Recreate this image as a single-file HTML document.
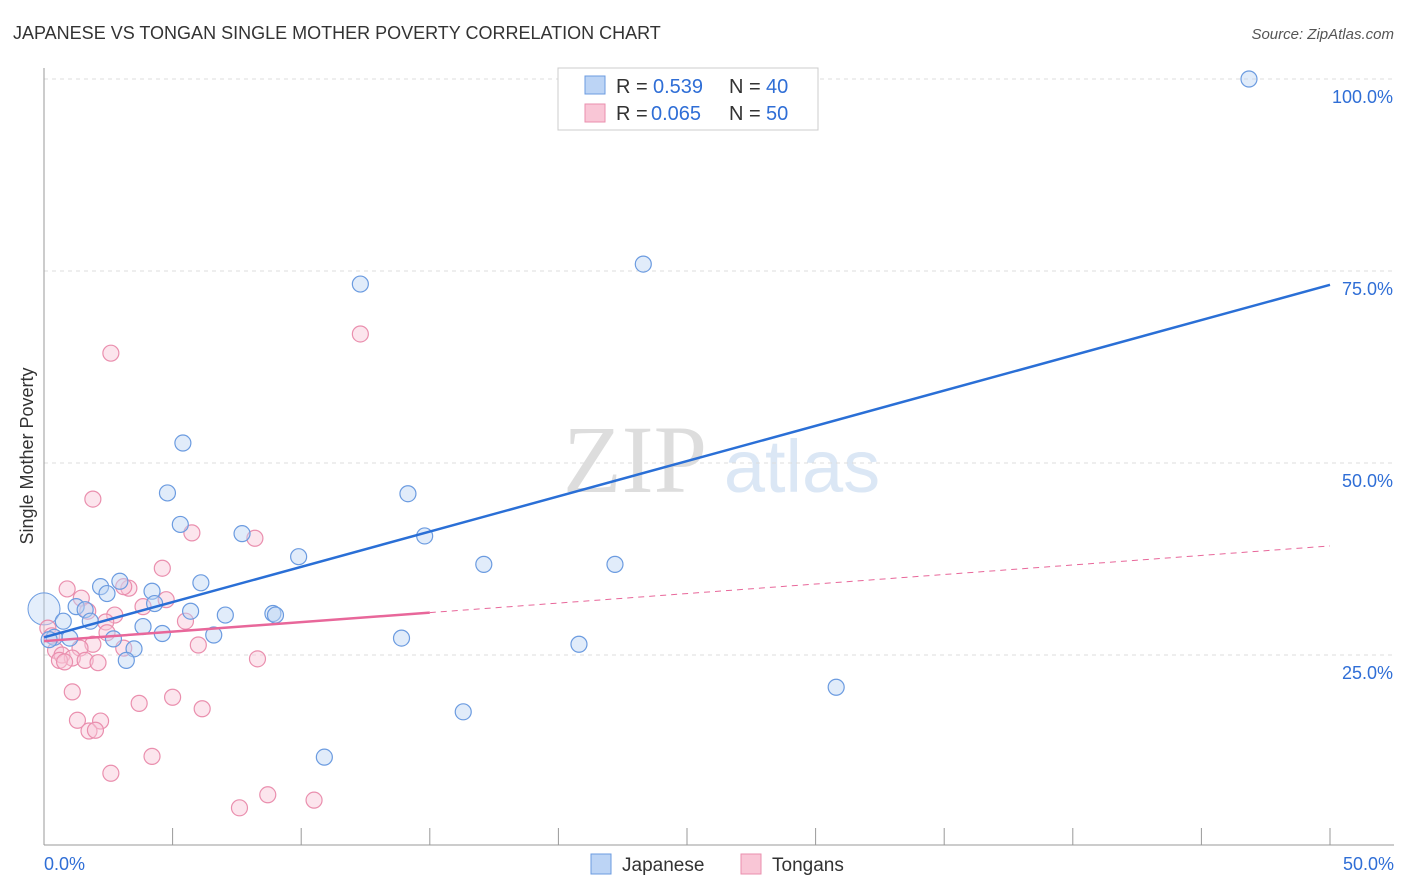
<!DOCTYPE html>
<html><head><meta charset="utf-8"><style>
body{margin:0;background:#fff;font-family:"Liberation Sans",sans-serif;}
#w{position:relative;width:1406px;height:892px;overflow:hidden;}
</style></head><body>
<div id="w">
<svg id="c" width="1406" height="892" xmlns="http://www.w3.org/2000/svg">
<text x="13" y="39" font-size="18" fill="#333">JAPANESE VS TONGAN SINGLE MOTHER POVERTY CORRELATION CHART</text>
<text x="1394" y="39" font-size="15" fill="#555" text-anchor="end" font-style="italic">Source: ZipAtlas.com</text>
<text x="33" y="456" font-size="18" fill="#333" text-anchor="middle" transform="rotate(-90 33 456)">Single Mother Poverty</text>
<text x="635" y="492" font-size="96" fill="#ddd" text-anchor="middle" font-family="Liberation Serif,serif">ZIP</text>
<text x="802" y="492" font-size="74" fill="#dbe7f5" text-anchor="middle">atlas</text>
<g id="grid"></g><g id="marks"></g>
<g>
<rect x="558" y="68" width="260" height="62" fill="#fff" stroke="#ccc"/>
<rect x="585" y="76" width="20" height="18" fill="#bcd4f5" stroke="#6b9be0"/>
<text y="93" font-size="20" fill="#333"><tspan x="616">R =</tspan><tspan x="653" fill="#2f6ed6">0.539</tspan><tspan x="729">N =</tspan><tspan x="766" fill="#2f6ed6">40</tspan></text>
<rect x="585" y="104" width="20" height="18" fill="#f9c6d6" stroke="#ea8fae"/>
<text y="120" font-size="20" fill="#333"><tspan x="616">R =</tspan><tspan x="651" fill="#2f6ed6">0.065</tspan><tspan x="729">N =</tspan><tspan x="766" fill="#2f6ed6">50</tspan></text>
</g>
<g>
<rect x="591" y="854" width="20" height="20" fill="#bcd4f5" stroke="#6b9be0"/>
<text x="622" y="871" font-size="19" fill="#333">Japanese</text>
<rect x="741" y="854" width="20" height="20" fill="#f9c6d6" stroke="#ea8fae"/>
<text x="772" y="871" font-size="19" fill="#333">Tongans</text>
</g>
</svg>
</div>
<script>
const blueX=[46.85,23.3,12.3,5.4,4.8,14.15,5.3,7.7,14.8,9.9,17.1,22.2,2.95,2.2,4.2,6.1,2.45,4.3,1.25,1.6,5.7,7.05,8.9,9.0,1.8,0.75,3.85,4.6,6.6,13.9,2.7,1.0,0.4,0.2,20.8,3.5,3.2,30.8,16.3,10.9];
const blueY=[100,75.9,73.3,52.6,46.1,46.0,42.0,40.8,40.5,37.8,36.8,36.8,34.6,33.9,33.3,34.4,33.0,31.7,31.3,30.9,30.7,30.2,30.4,30.2,29.4,29.4,28.7,27.8,27.6,27.2,27.1,27.2,27.3,27.0,26.4,25.8,24.3,20.8,17.6,11.7];
const pinkX=[2.6,12.3,1.9,5.75,8.2,4.6,0.9,3.3,3.1,1.45,4.75,3.85,2.75,1.7,5.5,2.4,2.45,0.15,0.3,1.9,6.0,1.4,3.1,0.45,0.7,1.1,0.6,0.8,1.6,2.1,8.3,1.1,5.0,3.7,6.15,1.3,2.2,1.75,2.0,4.2,2.6,8.7,7.6,10.5];
const pinkY=[64.3,66.8,45.3,40.9,40.2,36.3,33.6,33.7,33.9,32.4,32.2,31.3,30.2,30.7,29.4,29.3,27.9,28.5,27.5,26.4,26.3,25.9,25.9,25.6,25.0,24.6,24.3,24.1,24.3,24.0,24.5,20.2,19.5,18.7,18.0,16.5,16.4,15.1,15.2,11.8,9.6,6.8,5.1,6.1];
const yTicks=[25,50,75,100];
const xTickLabels=["0.0%","50.0%"];
const blueTrend=[27.3,73.2];
const pinkTrend=[26.8,39.2];
const NS="http://www.w3.org/2000/svg";
const sx=v=>44+v*25.72, sy=v=>847-v*7.68;
function mk(t,a,p){const e=document.createElementNS(NS,t);for(const k in a)e.setAttribute(k,a[k]);p.appendChild(e);return e;}
const g=document.getElementById('grid'),m=document.getElementById('marks');
yTicks.forEach(t=>{
 const l=mk('line',{x1:44,x2:1394,y1:sy(t),y2:sy(t),stroke:'#ddd','stroke-dasharray':'4,4'},g);
 
 
 const tx=mk('text',{x:1393,y:sy(t)+24,'font-size':18,fill:'#2f6ed6','text-anchor':'end'},g);
 tx.textContent=t.toFixed(1)+'%';
 
 
});
const ax=mk('line',{x1:44,x2:44,y1:68,y2:845,stroke:'#999'},g);


const bx=mk('line',{x1:44,x2:1394,y1:845,y2:845,stroke:'#999'},g);


for(let i=1;i<=10;i++){const l=mk('line',{x1:sx(i*5),x2:sx(i*5),y1:828,y2:845,stroke:'#999'},g);
 
 }
[[0,'start',44],[50,'end',1394]].forEach((d,i)=>{const t=mk('text',{x:d[2],y:870,'font-size':18,fill:'#2f6ed6','text-anchor':d[1]},g);t.textContent=xTickLabels[i];
 
 });
function pts(X,Y,f,s,n){X.forEach((x,i)=>{const c=mk('circle',{cx:sx(x),cy:sy(Y[i]),r:8,fill:f,'fill-opacity':0.45,stroke:s,'stroke-width':1.2},m);
 
 });}
const big1=mk('circle',{cx:sx(0),cy:sy(31),r:16,fill:'#bcd4f5','fill-opacity':0.4,stroke:'#6b9be0'},m);


pts(pinkX,pinkY,'#f9c6d6','#ea8fae','tongans-point');
pts(blueX,blueY,'#bcd4f5','#6b9be0','japanese-point');
const bl=mk('line',{x1:sx(0),y1:sy(blueTrend[0]),x2:sx(50),y2:sy(blueTrend[1]),stroke:'#2a6fd6','stroke-width':2.5},m);


const pAt=x=>pinkTrend[0]+(pinkTrend[1]-pinkTrend[0])*x/50;
const pl=mk('line',{x1:sx(0),y1:sy(pAt(0)),x2:sx(15),y2:sy(pAt(15)),stroke:'#e8679a','stroke-width':2.5},m);


const pd=mk('line',{x1:sx(15),y1:sy(pAt(15)),x2:sx(50),y2:sy(pAt(50)),stroke:'#e8679a','stroke-width':1,'stroke-dasharray':'6,5'},m);


</script>
</body></html>
